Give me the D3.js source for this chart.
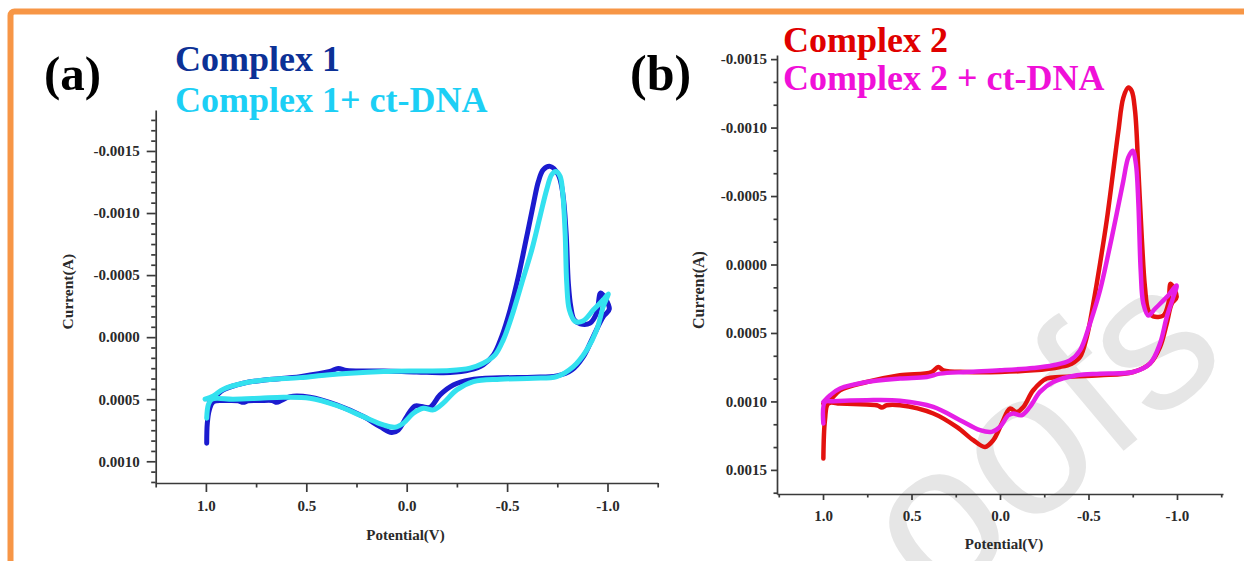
<!DOCTYPE html>
<html><head><meta charset="utf-8">
<script src="https://cdn.jsdelivr.net/npm/d3@7"></script>
<style>html,body{margin:0;padding:0;background:#fff;} svg{display:block}</style>
</head><body>
<svg id="chart" width="1244" height="561"></svg>
<script>
// ---------- DATA ----------
// Panel (a): Complex 1 (potential in V, current in A)
const c1Potential = [0.996,0.993,0.983,0.963,0.896,0.840,0.814,0.790,0.731,0.670,0.647,0.625,0.581,0.482,0.349,0.216,0.133,0.075,0.042,0.000,-0.041,-0.075,-0.116,-0.166,-0.232,-0.315,-0.465,-0.631,-0.747,-0.822,-0.880,-0.929,-0.979,-1.009,
  -0.966,-0.946,-0.913,-0.864,-0.834,-0.817,-0.805,-0.794,-0.777,-0.755,-0.714,-0.680,-0.656,-0.632,-0.598,-0.556,-0.515,-0.473,-0.432,-0.381,-0.315,-0.216,-0.050,0.116,0.299,0.341,0.382,0.531,0.697,0.814,0.913,0.955,0.988];
const c1Current = [8.55e-4,6.94e-4,5.86e-4,5.19e-4,5.11e-4,5.13e-4,5.25e-4,5.13e-4,5.11e-4,5.10e-4,5.25e-4,5.10e-4,4.79e-4,4.84e-4,5.46e-4,6.40e-4,7.21e-4,7.69e-4,7.48e-4,6.40e-4,5.54e-4,5.59e-4,5.65e-4,4.65e-4,3.85e-4,3.44e-4,3.28e-4,3.23e-4,3.12e-4,2.64e-4,1.56e-4,-0.05e-4,-1.66e-4,-2.26e-4,
  -3.55e-4,-1.94e-4,-1.13e-4,-1.07e-4,-1.40e-4,-2.47e-4,-4.35e-4,-8.39e-4,-11.61e-4,-13.09e-4,-13.76e-4,-13.49e-4,-12.55e-4,-10.81e-4,-8.12e-4,-4.89e-4,-2.20e-4,-0.05e-4,1.43e-4,2.23e-4,2.64e-4,2.85e-4,2.80e-4,2.72e-4,2.69e-4,2.52e-4,2.77e-4,3.18e-4,3.44e-4,3.71e-4,4.25e-4,4.79e-4,5.00e-4];

// Panel (a): Complex 1 + ct-DNA
const c1dnaPotential = [0.996,0.988,0.971,0.864,0.731,0.614,0.482,0.349,0.216,0.116,0.058,0.017,-0.033,-0.083,-0.133,-0.182,-0.249,-0.332,-0.465,-0.632,-0.747,-0.830,-0.897,-0.946,-0.979,-1.004,
  -0.979,-0.930,-0.880,-0.839,-0.810,-0.797,-0.789,-0.777,-0.764,-0.743,-0.722,-0.697,-0.664,-0.623,-0.573,-0.523,-0.481,-0.440,-0.381,-0.315,-0.216,-0.050,0.116,0.282,0.398,0.531,0.697,0.814,0.913,0.963,1.004];
const c1dnaCurrent = [6.53e-4,5.46e-4,5.00e-4,5.00e-4,4.92e-4,4.84e-4,4.92e-4,5.50e-4,6.40e-4,7.07e-4,7.26e-4,6.94e-4,6.13e-4,5.73e-4,5.86e-4,5.32e-4,4.25e-4,3.58e-4,3.39e-4,3.31e-4,3.18e-4,2.37e-4,1.02e-4,-0.59e-4,-2.47e-4,-3.49e-4,
  -3.01e-4,-2.20e-4,-1.33e-4,-1.26e-4,-2.20e-4,-4.35e-4,-8.39e-4,-11.61e-4,-12.95e-4,-13.35e-4,-13.09e-4,-11.88e-4,-9.73e-4,-7.04e-4,-4.35e-4,-1.66e-4,0.22e-4,1.43e-4,2.10e-4,2.50e-4,2.69e-4,2.72e-4,2.77e-4,2.90e-4,3.04e-4,3.26e-4,3.44e-4,3.71e-4,4.19e-4,4.73e-4,5.00e-4];

// Panel (b): Complex 2
const c2Potential = [0.998,0.989,0.970,0.904,0.753,0.690,0.668,0.640,0.565,0.377,0.245,0.151,0.085,0.038,-0.010,-0.056,-0.094,-0.132,-0.188,-0.264,-0.339,-0.565,-0.753,-0.847,-0.904,-0.942,-0.970,-0.998,
  -0.964,-0.951,-0.923,-0.866,-0.838,-0.819,-0.801,-0.782,-0.763,-0.744,-0.725,-0.697,-0.669,-0.640,-0.603,-0.565,-0.527,-0.490,-0.452,-0.405,-0.339,-0.188,0.000,0.188,0.320,0.349,0.386,0.565,0.753,0.904,0.960,0.998];
const c2Current = [14.16e-4,11.37e-4,10.15e-4,10.15e-4,10.23e-4,10.30e-4,10.45e-4,10.28e-4,10.28e-4,10.88e-4,11.86e-4,12.83e-4,13.32e-4,12.83e-4,11.61e-4,10.52e-4,10.77e-4,10.40e-4,9.18e-4,8.33e-4,8.21e-4,8.09e-4,7.85e-4,7.24e-4,6.03e-4,4.32e-4,2.86e-4,2.38e-4,
  1.41e-4,2.86e-4,3.72e-4,3.79e-4,3.35e-4,1.65e-4,-1.99e-4,-6.85e-4,-11.22e-4,-12.68e-4,-12.92e-4,-12.19e-4,-9.77e-4,-6.85e-4,-3.21e-4,-0.05e-4,2.86e-4,5.30e-4,6.76e-4,7.24e-4,7.48e-4,7.73e-4,7.85e-4,7.85e-4,7.73e-4,7.48e-4,7.85e-4,8.09e-4,8.58e-4,9.18e-4,9.91e-4,10.15e-4];

// Panel (b): Complex 2 + ct-DNA
const c2dnaPotential = [0.998,0.989,0.942,0.753,0.565,0.377,0.226,0.113,0.047,0.000,-0.047,-0.075,-0.122,-0.169,-0.226,-0.301,-0.433,-0.565,-0.753,-0.847,-0.904,-0.942,-0.979,-0.998,
  -0.942,-0.876,-0.838,-0.810,-0.795,-0.782,-0.768,-0.750,-0.725,-0.697,-0.659,-0.612,-0.565,-0.508,-0.452,-0.395,-0.301,-0.188,0.000,0.188,0.339,0.414,0.565,0.753,0.904,0.960,0.998];
const c2dnaCurrent = [11.61e-4,10.04e-4,9.99e-4,9.91e-4,9.95e-4,10.40e-4,11.37e-4,12.10e-4,12.22e-4,11.86e-4,11.01e-4,10.88e-4,11.01e-4,10.40e-4,9.30e-4,8.58e-4,8.09e-4,7.97e-4,7.85e-4,7.24e-4,5.78e-4,3.84e-4,2.38e-4,1.53e-4,
  2.38e-4,3.23e-4,3.72e-4,2.86e-4,0.44e-4,-4.42e-4,-7.34e-4,-8.31e-4,-7.82e-4,-6.12e-4,-3.69e-4,-0.78e-4,1.90e-4,4.32e-4,6.27e-4,7.00e-4,7.36e-4,7.56e-4,7.73e-4,7.85e-4,7.97e-4,8.21e-4,8.33e-4,8.58e-4,9.06e-4,9.55e-4,10.04e-4];

// Ticks
const xMajorTicks = [1.0, 0.5, 0.0, -0.5, -1.0];
const xMinorTicks = [1.25, 0.75, 0.25, -0.25, -0.75, -1.25];
const yTicksA = [-0.0015, -0.0010, -0.0005, 0.0000, 0.0005, 0.0010];
const yTicksB = [-0.0015, -0.0010, -0.0005, 0.0000, 0.0005, 0.0010, 0.0015];

// Labels
const panelLabels = ["(a)", "(b)"];
const seriesNamesA = ["Complex 1", "Complex 1+ ct-DNA"];
const seriesNamesB = ["Complex 2", "Complex 2 + ct-DNA"];
const xTitle = "Potential(V)";
const yTitle = "Current(A)";
const watermark = "oofs";

// ---------- DRAW ----------
const svg = d3.select("#chart");
const SERIF = "'Liberation Serif','Times New Roman',serif";

// orange frame
svg.append("rect")
  .attr("x", 10.5).attr("y", 11.5).attr("width", 1400).attr("height", 800)
  .attr("rx", 4).attr("fill", "none").attr("stroke", "#f79646").attr("stroke-width", 6);

// watermark (partially visible in the reference)
svg.append("text")
  .attr("transform", "translate(1232,360) rotate(-40)")
  .attr("text-anchor", "end")
  .attr("font-family", "'Liberation Sans',Arial,sans-serif")
  .attr("font-size", 205)
  .attr("fill", "#e6e6e6")
  .text(watermark);

function drawPanel(cfg) {
  const g = svg.append("g");
  const x = d3.scaleLinear().domain(cfg.xDomain).range(cfg.xRange);
  const y = d3.scaleLinear().domain(cfg.yDomain).range(cfg.yRange);
  const x0 = cfg.xRange[0], yB = cfg.yRange[1];
  const step = 0.0005 / cfg.yMinorDiv;
  const yMinor = d3.range(Math.ceil(cfg.yDomain[0] / step), Math.floor(cfg.yDomain[1] / step) + 1)
    .filter(k => k % cfg.yMinorDiv !== 0).map(k => k * step);

  // minor ticks
  const ym = g.append("g").attr("transform", `translate(${x0},0)`)
    .call(d3.axisLeft(y).tickValues(yMinor).tickSize(cfg.minorLen).tickFormat(""));
  ym.select(".domain").remove();
  const xm = g.append("g").attr("transform", `translate(0,${yB})`)
    .call(d3.axisBottom(x).tickValues(xMinorTicks).tickSize(cfg.minorLen).tickFormat(""));
  xm.select(".domain").remove();

  // major axes
  g.append("g").attr("transform", `translate(${x0},0)`)
    .call(d3.axisLeft(y).tickValues(cfg.yTicks).tickSize(cfg.majorLen).tickSizeOuter(0)
      .tickPadding(cfg.yPad).tickFormat(d => d.toFixed(4)));
  g.append("g").attr("transform", `translate(0,${yB})`)
    .call(d3.axisBottom(x).tickValues(xMajorTicks).tickSize(cfg.majorLen).tickSizeOuter(0)
      .tickPadding(cfg.xPad).tickFormat(d => d.toFixed(1)));
  g.selectAll(".domain, .tick line").attr("stroke", "#3a3a3a").attr("stroke-width", 1.7);
  g.selectAll(".tick text").attr("font-family", SERIF).attr("font-weight", "bold")
    .attr("font-size", 15).attr("fill", "#2a2a2a");

  // titles
  g.append("text").attr("x", cfg.xTitlePos[0]).attr("y", cfg.xTitlePos[1])
    .attr("text-anchor", "middle").attr("font-family", SERIF).attr("font-weight", "bold")
    .attr("font-size", 15).attr("fill", "#2a2a2a").text(xTitle);
  g.append("text").attr("transform", `translate(${cfg.yTitlePos[0]},${cfg.yTitlePos[1]}) rotate(-90)`)
    .attr("text-anchor", "middle").attr("font-family", SERIF).attr("font-weight", "bold")
    .attr("font-size", cfg.yTitleSize).attr("fill", "#2a2a2a").text(yTitle);

  // curves
  const line = d3.line().x(d => x(d[0])).y(d => y(d[1])).curve(d3.curveCatmullRom.alpha(0.5));
  cfg.series.forEach(s => {
    g.append("path").datum(d3.zip(s.e, s.i)).attr("d", line)
      .attr("fill", "none").attr("stroke", s.color).attr("stroke-width", cfg.lineW)
      .attr("stroke-linejoin", "round").attr("stroke-linecap", "round");
  });

  // panel label & legend text
  svg.append("text").attr("x", cfg.labelPos[0]).attr("y", cfg.labelPos[1])
    .attr("font-family", SERIF).attr("font-weight", "bold").attr("font-size", cfg.labelSize)
    .attr("fill", "#000").text(cfg.label);
  cfg.series.forEach((s, k) => {
    svg.append("text").attr("x", cfg.legendX).attr("y", cfg.legendY[k])
      .attr("font-family", SERIF).attr("font-weight", "bold").attr("font-size", 36)
      .attr("fill", s.textColor).text(s.name);
  });
}

drawPanel({
  xDomain: [1.25, -1.25], xRange: [155.7, 657.7],
  yDomain: [-0.00183, 0.001175], yRange: [110, 483],
  yTicks: yTicksA, yMinorDiv: 6, majorLen: 9, minorLen: 4.5, yPad: 7, xPad: 8,
  xTitlePos: [405.5, 539.5], yTitlePos: [72.5, 291.7], yTitleSize: 15.5,
  lineW: 5,
  label: panelLabels[0], labelPos: [44, 90], labelSize: 49,
  legendX: 175, legendY: [70.5, 111.5],
  series: [
    {name: seriesNamesA[0], e: c1Potential, i: c1Current, color: "#1b1bcf", textColor: "#0c3196"},
    {name: seriesNamesA[1], e: c1dnaPotential, i: c1dnaCurrent, color: "#33e1ef", textColor: "#1ccff5"}
  ]
});

drawPanel({
  xDomain: [1.26, -1.26], xRange: [777, 1223],
  yDomain: [-0.00153, 0.001676], yRange: [55, 494],
  yTicks: yTicksB, yMinorDiv: 3, majorLen: 6, minorLen: 3.5, yPad: 4, xPad: 10.5,
  xTitlePos: [1004, 549], yTitlePos: [704, 290], yTitleSize: 16,
  lineW: 4.5,
  label: panelLabels[1], labelPos: [630, 90], labelSize: 50,
  legendX: 783, legendY: [51.7, 90],
  series: [
    {name: seriesNamesB[0], e: c2Potential, i: c2Current, color: "#e3120f", textColor: "#e00000"},
    {name: seriesNamesB[1], e: c2dnaPotential, i: c2dnaCurrent, color: "#e51fe6", textColor: "#f010d8"}
  ]
});
</script>
</body></html>
